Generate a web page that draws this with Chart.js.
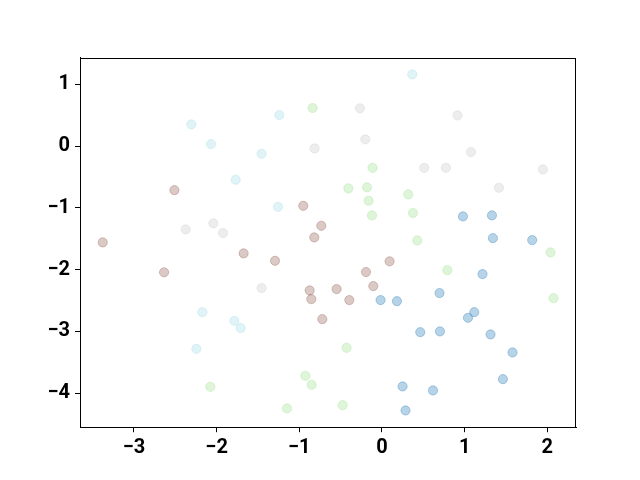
<!DOCTYPE html>
<html>
<head>
<meta charset="utf-8">
<script src="https://cdn.jsdelivr.net/npm/chart.js@4/dist/chart.umd.min.js"></script>
<style>
  html, body { margin: 0; padding: 0; background: #fff; }
  #wrap { width: 640px; height: 480px; }
</style>
</head>
<body>
<div id="wrap"><canvas id="c" width="640" height="480"></canvas></div>
<script>
// ---- data ----
const xTicks = [-3, -2, -1, 0, 1, 2];
const yTicks = [-4, -3, -2, -1, 0, 1];
const xRange = [-3.653, 2.347];
const yRange = [-4.55, 1.432];

const bluePts = [
  [0.979,-1.138],[1.330,-1.122],[1.342,-1.490],[1.817,-1.522],[1.216,-2.072],
  [-0.017,-2.493],[0.181,-2.510],[0.696,-2.379],[1.116,-2.688],[1.040,-2.780],
  [0.463,-3.012],[0.701,-3.000],[1.313,-3.048],[1.579,-3.340],[1.463,-3.772],
  [0.249,-3.890],[0.617,-3.955],[0.285,-4.279]
];
const brownPts = [
  [-2.511,-0.713],[-0.952,-0.967],[-0.734,-1.290],[-0.819,-1.478],[-3.378,-1.559],
  [-1.674,-1.737],[-1.294,-1.857],[-2.636,-2.044],[-0.875,-2.336],[-0.855,-2.477],
  [-0.722,-2.801],[0.092,-1.866],[-0.193,-2.039],[-0.549,-2.315],[-0.105,-2.266],
  [-0.395,-2.493]
];
const greenPts = [
  [-0.839,0.616],[-0.114,-0.352],[-0.407,-0.685],[-0.181,-0.669],[-0.162,-0.885],
  [0.318,-0.782],[-0.121,-1.122],[0.375,-1.084],[0.427,-1.527],[2.039,-1.721],
  [0.790,-2.008],[2.075,-2.461],[-0.428,-3.265],[-0.476,-4.194],[-0.927,-3.718],
  [-0.851,-3.864],[-2.076,-3.897],[-1.149,-4.246]
];
const grayPts = [
  [-0.815,-0.038],[-2.375,-1.349],[-2.040,-1.251],[-1.923,-1.408],[-0.266,0.611],
  [0.914,0.497],[-0.202,0.109],[1.076,-0.097],[0.511,-0.352],[0.774,-0.352],
  [1.947,-0.378],[1.415,-0.675],[-1.456,-2.299]
];
const cyanPts = [
  [-2.306,0.351],[-2.068,0.032],[-1.242,0.502],[-1.456,-0.125],[-1.770,-0.545],
  [-1.258,-0.983],[0.366,1.160],[-2.173,-2.688],[-1.786,-2.829],[-1.710,-2.946],
  [-2.245,-3.282]
];

const groups = [
  { pts: bluePts,  color: 'rgba(31,119,180,0.32)' },
  { pts: brownPts, color: 'rgba(140,86,75,0.32)' },
  { pts: greenPts, color: 'rgba(152,223,138,0.32)' },
  { pts: grayPts,  color: 'rgba(199,199,199,0.32)' },
  { pts: cyanPts,  color: 'rgba(158,218,229,0.32)' }
];

const datasets = groups.map(g => ({
  data: g.pts.map(p => ({ x: p[0], y: p[1] })),
  backgroundColor: g.color,
  borderColor: g.color,
  borderWidth: 1,
  pointRadius: 4.6,
  pointHoverRadius: 4.6
}));

const fmt = v => (v < 0 ? '\u2212' + Math.abs(v) : String(v));
const tickFont = { family: 'Roboto, "Liberation Sans", sans-serif', size: 20, weight: 'bold' };

const frame = {
  id: 'frame',
  afterDraw(chart) {
    const a = chart.chartArea, ctx = chart.ctx;
    ctx.save();
    ctx.strokeStyle = '#000';
    ctx.lineWidth = 1;
    ctx.strokeRect(Math.round(a.left) + 0.5, Math.round(a.top) + 0.5,
                   Math.round(a.right - a.left) - 1, Math.round(a.bottom - a.top) - 1);
    ctx.restore();
  }
};

new Chart(document.getElementById('c'), {
  type: 'scatter',
  data: { datasets },
  plugins: [frame],
  options: {
    responsive: false,
    animation: false,
    events: [],
    layout: { padding: { left: 0, right: 64, top: 57.6, bottom: 0 } },
    plugins: { legend: { display: false }, tooltip: { enabled: false } },
    scales: {
      x: {
        type: 'linear',
        min: xRange[0], max: xRange[1],
        afterBuildTicks: s => { s.ticks = xTicks.map(v => ({ value: v })); },
        afterFit: s => { s.height = 480 - 427.2; },
        grid: { display: true, drawOnChartArea: false, drawTicks: true, tickLength: 5, color: '#000', lineWidth: 1 },
        border: { display: true, color: '#000', width: 1 },
        ticks: { color: '#000', font: tickFont, padding: 4, callback: v => fmt(v), maxRotation: 0, autoSkip: false }
      },
      y: {
        type: 'linear',
        min: yRange[0], max: yRange[1],
        afterBuildTicks: s => { s.ticks = yTicks.map(v => ({ value: v })); },
        afterFit: s => { s.width = 80; },
        grid: { display: true, drawOnChartArea: false, drawTicks: true, tickLength: 5, color: '#000', lineWidth: 1 },
        border: { display: true, color: '#000', width: 1 },
        ticks: { color: '#000', font: tickFont, padding: 5, callback: v => fmt(v), autoSkip: false }
      }
    }
  }
});
</script>
</body>
</html>
